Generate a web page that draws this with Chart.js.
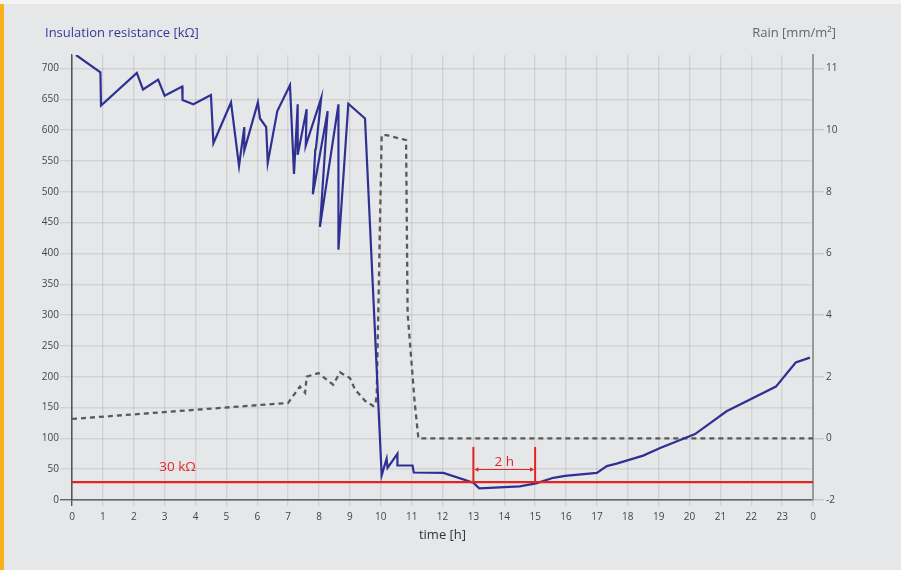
<!DOCTYPE html>
<html>
<head>
<meta charset="utf-8">
<script src="https://cdn.jsdelivr.net/npm/chart.js@4.4.1/dist/chart.umd.min.js"></script>
<style>
  html, body { margin: 0; padding: 0; background: #e6e7e9; }
  #wrap { position: relative; width: 901px; height: 570px; overflow: hidden; }
  #topstrip { position: absolute; left: 0; top: 0; width: 901px; height: 4px; background: #f4f4f5; }
  #bar { position: absolute; left: 0; top: 4px; width: 4px; height: 566px; background: #f9b01e; }
  canvas { position: absolute; left: 0; top: 0; }
</style>
</head>
<body>
<div id="wrap">
  <div id="topstrip"></div>
  <div id="bar"></div>
  <canvas id="c" width="901" height="570"></canvas>
</div>
<script>
// ---- Data ----
const resistanceHours = [0.13, 0.92, 0.94, 2.1, 2.3, 2.79, 3.0, 3.57, 3.58, 3.93, 4.5, 4.58, 5.15, 5.41, 5.58, 5.58, 6.02, 6.09, 6.29, 6.34, 6.65, 7.06, 7.19, 7.31, 7.31, 7.6, 7.57, 8.07, 7.9, 7.88, 7.8, 8.28, 8.03, 8.63, 8.63, 8.95, 9.49, 10.03, 10.19, 10.22, 10.54, 10.54, 11.03, 11.07, 12.03, 13.0, 13.19, 14.5, 15.03, 15.59, 15.97, 17.0, 17.32, 17.64, 18.5, 19.03, 20.18, 21.2, 22.8, 23.44, 23.9];
const resistanceValues = [722, 694, 640, 693, 666, 682, 656, 671, 649, 642, 657, 579, 645, 542, 605, 567, 645, 619, 605, 547, 631, 673, 529, 642, 560, 634, 575, 652, 570, 568, 496, 631, 443, 642, 406, 643, 619, 40, 67, 52, 75, 56, 56, 44.6, 44, 28, 19, 22, 27, 36, 39, 44, 55, 59, 72, 84, 107, 144, 184, 223, 231];

const rainHours = [0, 7.0, 7.38, 7.55, 7.6, 7.98, 8.46, 8.68, 9.0, 9.17, 9.49, 9.76, 9.83, 9.87, 10.03, 10.19, 10.82, 10.87, 11.1, 11.22, 24];
const rainValues = [0.63, 1.15, 1.68, 1.48, 2.0, 2.12, 1.74, 2.14, 1.96, 1.58, 1.22, 1.05, 1.1, 1.47, 9.84, 9.84, 9.68, 4.06, 1.15, 0, 0];

const xTickLabels = ['0','1','2','3','4','5','6','7','8','9','10','11','12','13','14','15','16','17','18','19','20','21','22','23','0'];
const leftTickValues = [0, 50, 100, 150, 200, 250, 300, 350, 400, 450, 500, 550, 600, 650, 700];
const rightTickValues = [-2, 0, 2, 4, 6, 8, 10, 12];
const rightTickLabels = ['-2', '0', '2', '4', '6', '8', '10', '11'];

const threshold = 29;           // "30 kΩ" limit line
const thresholdLabel = '30 kΩ';
const spanStart = 13, spanEnd = 15, spanTop = 86, spanArrowY = 49.5;
const spanLabel = '2 h';

// ---- Colours ----
const BLUE = '#2e3192', RAIN = '#58595b', RED = '#e52421';
const GRID = 'rgba(0,0,0,0.085)';
const FONT = '"Open Sans", sans-serif';

const resistancePoints = resistanceHours.map((h, i) => ({ x: h, y: resistanceValues[i] }));
const rainPoints = rainHours.map((h, i) => ({ x: h, y: rainValues[i] }));

const textPlugin = {
  id: 'texts',
  afterDatasetsDraw(chart) {
    const { ctx, scales } = chart;
    ctx.save();
    ctx.textBaseline = 'middle';
    ctx.font = '13px ' + FONT;
    ctx.fillStyle = '#35389a';
    ctx.textAlign = 'left';
    ctx.fillText('Insulation resistance [kΩ]', 45, 33);
    ctx.fillStyle = '#666';
    ctx.textAlign = 'right';
    ctx.fillText('Rain [mm/m²]', 836, 33);
    ctx.fillStyle = RED;
    ctx.textAlign = 'center';
    ctx.font = '13.5px ' + FONT;
    ctx.fillText(thresholdLabel, scales.x.getPixelForValue(3.42), scales.y.getPixelForValue(53));
    ctx.font = '13.5px ' + FONT;
    ctx.fillText(spanLabel, scales.x.getPixelForValue((spanStart + spanEnd) / 2), scales.y.getPixelForValue(61));
    ctx.restore();
  }
};

new Chart(document.getElementById('c'), {
  type: 'line',
  data: {
    datasets: [
      { data: [{x: 0, y: threshold}, {x: 24.15, y: threshold}], borderColor: RED, borderWidth: 2.2, pointRadius: 0, order: 0, yAxisID: 'y' },
      { data: [{x: spanStart, y: threshold}, {x: spanStart, y: spanTop}], borderColor: RED, borderWidth: 2, pointRadius: 0, order: 0, yAxisID: 'y' },
      { data: [{x: spanEnd, y: threshold}, {x: spanEnd, y: spanTop}], borderColor: RED, borderWidth: 2, pointRadius: 0, order: 0, yAxisID: 'y' },
      { data: [{x: spanStart + 0.12, y: spanArrowY}, {x: spanEnd - 0.12, y: spanArrowY}], borderColor: RED, backgroundColor: RED, borderWidth: 1,
        pointStyle: 'triangle', pointRadius: 2.6, pointRotation: [-90, 90], pointBorderWidth: 0, order: 0, yAxisID: 'y' },
      { data: resistancePoints, borderColor: BLUE, borderWidth: 2.2, pointRadius: 0, order: 1, yAxisID: 'y' },
      { data: rainPoints, borderColor: RAIN, borderWidth: 2.3, borderDash: [5, 4], pointRadius: 0, order: 2, yAxisID: 'y2' }
    ]
  },
  options: {
    responsive: false,
    animation: false,
    events: [],
    layout: { padding: { top: 55, left: 0, right: 0, bottom: 0 } },
    plugins: { legend: { display: false }, tooltip: { enabled: false }, title: { display: false } },
    elements: { line: { tension: 0 } },
    scales: {
      x: {
        type: 'linear', min: 0, max: 24, offset: false,
        afterFit(s) { s.height = 70; },
        afterBuildTicks(s) { s.ticks = xTickLabels.map((_, i) => ({ value: i })); },
        ticks: { autoSkip: false, maxRotation: 0, padding: 5, color: '#444', font: { size: 10, family: FONT },
                 callback: (v, i) => xTickLabels[i] },
        grid: { color: c => (c.tick && c.tick.value === 0) ? '#555' : GRID, lineWidth: 1.4, tickLength: 6 },
        border: { display: true, color: '#666', width: 1.3 },
        title: { display: true, text: 'time [h]', color: '#333', font: { size: 13, family: FONT }, padding: { top: 0, bottom: 27 } }
      },
      y: {
        type: 'linear', position: 'left', min: 0, max: 722,
        afterFit(s) { s.width = 72; },
        afterBuildTicks(s) { s.ticks = leftTickValues.map(v => ({ value: v })); },
        ticks: { padding: 1, color: '#444', font: { size: 10, family: FONT } },
        grid: { color: c => (c.tick && c.tick.value === 0) ? '#666' : GRID, lineWidth: 1.4, tickLength: 12 },
        border: { display: true, color: '#555', width: 1.3 }
      },
      y2: {
        type: 'linear', position: 'right', min: -2, max: 722 / 50 - 2,
        afterFit(s) { s.width = 88; },
        afterBuildTicks(s) { s.ticks = rightTickValues.map(v => ({ value: v })); },
        ticks: { padding: 2, color: '#444', font: { size: 10, family: FONT },
                 callback: (v, i) => rightTickLabels[i] },
        grid: { drawOnChartArea: false, color: '#c9cacc', lineWidth: 1.4, tickLength: 11 },
        border: { display: true, color: '#9a9a9a', width: 2 }
      }
    }
  },
  plugins: [textPlugin]
});
</script>
</body>
</html>
